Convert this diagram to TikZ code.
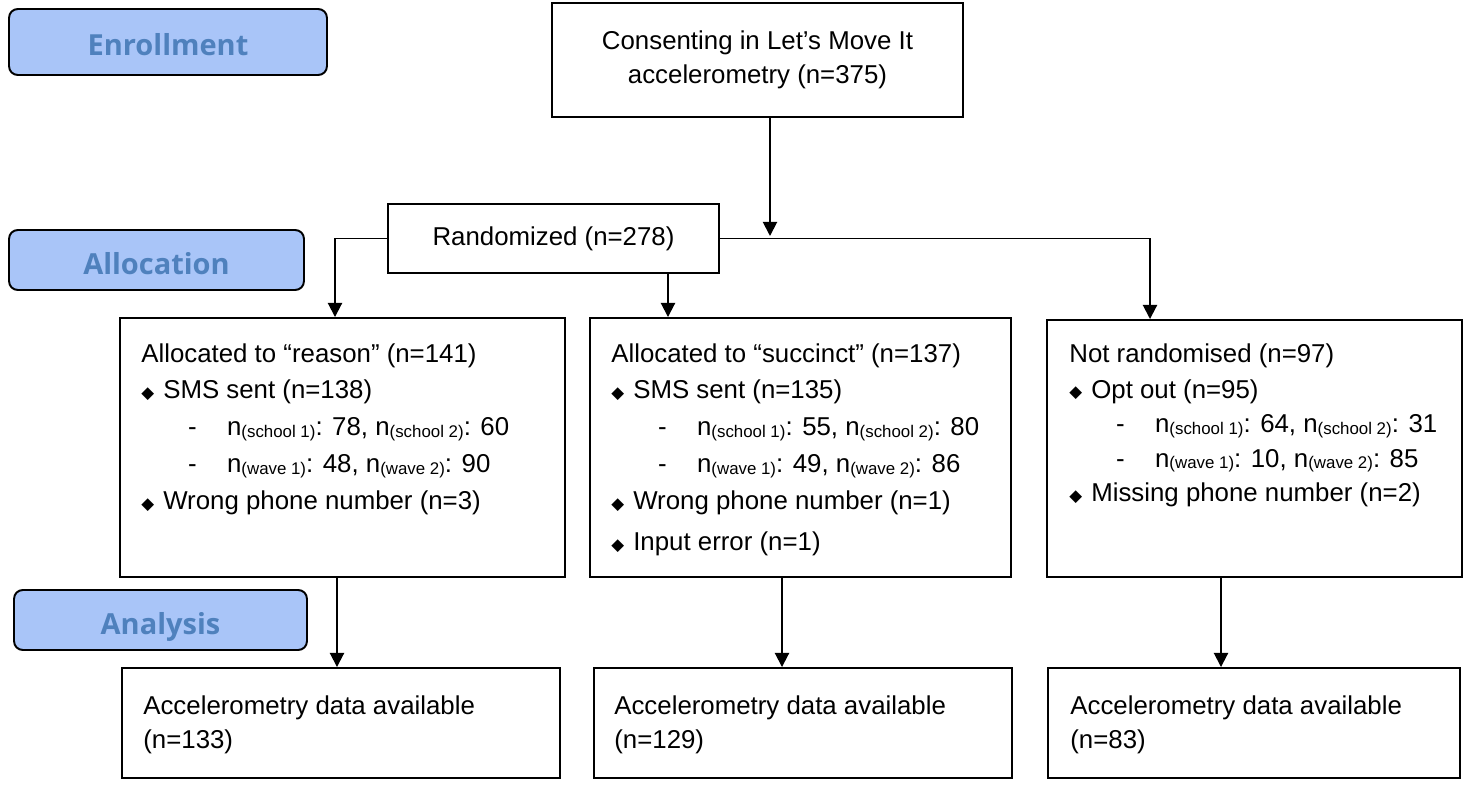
\documentclass[tikz,border=0pt]{standalone}
\usepackage{fontspec}
\setmainfont{Liberation Sans}
\newfontfamily\phasefont{Open Sans}
\newfontfamily\symfont{DejaVu Sans}
\usetikzlibrary{arrows.meta,positioning,fit,calc}
\definecolor{phasefill}{HTML}{A9C5F8}
\definecolor{phasetext}{HTML}{4F81BD}
\newcommand{\itm}{\makebox[12.5pt][l]{\raisebox{0.3pt}{\symfont\fontsize{9.5}{9.5}\selectfont ◆}}}
\newcommand{\dashline}{\hspace*{26.6pt}\makebox[22.2pt][l]{-}}
\newcommand{\nsub}[1]{n\raisebox{-1pt}{\fontsize{9.6}{9.6}\selectfont(#1)}}

\tikzset{
  box/.style={draw, line width=1.1pt, inner sep=0pt},
  phase/.style={draw, line width=1.1pt, rounded corners=5pt, fill=phasefill, text=phasetext,
    font={\phasefont\bfseries\fontsize{16.5}{18}\selectfont}, minimum height=1.2cm,
    text height=16pt, text depth=0pt},
  info/.style={anchor=north west, inner sep=0pt, align=left, font={\fontsize{14.7}{21}\selectfont}},
  arr/.style={line width=1.1pt, -{Triangle[length=8pt,width=8pt]}},
}

\begin{document}
\begin{tikzpicture}[x=0.02cm, y=-0.02cm, font={\fontsize{14.7}{19.4}\selectfont}]
\useasboundingbox (0,0) rectangle (1474,797);

\node[phase, minimum width=6.36cm, minimum height=1.32cm, text height=15.5pt] (enrol) at (168,42) {Enrollment};
\node[phase, minimum width=5.9cm] (alloc) at (156.5,260) {Allocation};
\node[phase, minimum width=5.86cm] (anal) at (160.5,620) {Analysis};

\node[box, minimum width=8.22cm, minimum height=2.28cm, align=center] (consent) at (757.5,60) {Consenting in Let’s Move It\\accelerometry (n=375)};
\node[box, minimum width=6.62cm, minimum height=1.38cm] (rand) at (553.5,238.5) {Randomized (n=278)};

\node[box, fit={(120,318)(565,577)}] (reason) {};
\node[box, fit={(590,318)(1011,577)}] (succ) {};
\node[box, fit={(1047,320)(1462,577)}] (notrand) {};
\node[box, fit={(122,668)(560,778)}] (rdata) {};
\node[box, fit={(594,668)(1012,778)}] (sdata) {};
\node[box, fit={(1048,668)(1460,778)}] (ndata) {};

\node[info] (reasontxt) at (141,343) {Allocated to “reason” (n=141)\\
  \itm SMS sent (n=138)\\
  \dashline\nsub{school 1}: 78, \nsub{school 2}: 60\\
  \dashline\nsub{wave 1}: 48, \nsub{wave 2}: 90\\
  \itm Wrong phone number (n=3)};
\node[info] (succtxt) at (611,343) {Allocated to “succinct” (n=137)\\
  \itm SMS sent (n=135)\\
  \dashline\nsub{school 1}: 55, \nsub{school 2}: 80\\
  \dashline\nsub{wave 1}: 49, \nsub{wave 2}: 86\\
  \itm Wrong phone number (n=1)\\[2.3pt]
  \itm Input error (n=1)};
\node[info, font={\fontsize{14.7}{19.6}\selectfont}] (notrandtxt) at (1069,343) {Not randomised (n=97)\\[1pt]
  \itm Opt out (n=95)\\
  \dashline\nsub{school 1}: 64, \nsub{school 2}: 31\\
  \dashline\nsub{wave 1}: 10, \nsub{wave 2}: 85\\
  \itm Missing phone number (n=2)};

\node[info, font={\fontsize{14.7}{19.8}\selectfont}] (rdatatxt) at (143,695) {Accelerometry data available\\(n=133)};
\node[info, font={\fontsize{14.7}{19.8}\selectfont}] (sdatatxt) at (614,695) {Accelerometry data available\\(n=129)};
\node[info, font={\fontsize{14.7}{19.8}\selectfont}] (ndatatxt) at (1070,695) {Accelerometry data available\\(n=83)};

\coordinate (join) at (770,236);
\coordinate (xr) at (335,0);
\coordinate (xs) at (668,0);
\coordinate (xn) at (1150,0);
\coordinate (xl) at (337,0);
\coordinate (xm) at (782,0);
\coordinate (xk) at (1221,0);

\draw[arr] (consent.south -| join) -- (join);
\draw[arr] (rand.west) -| (reason.north -| xr);
\draw[arr] (rand.east) -| (notrand.north -| xn);
\draw[arr] (rand.south -| xs) -- (succ.north -| xs);
\draw[arr] (reason.south -| xl) -- (rdata.north -| xl);
\draw[arr] (succ.south -| xm) -- (sdata.north -| xm);
\draw[arr] (notrand.south -| xk) -- (ndata.north -| xk);
\end{tikzpicture}
\end{document}
